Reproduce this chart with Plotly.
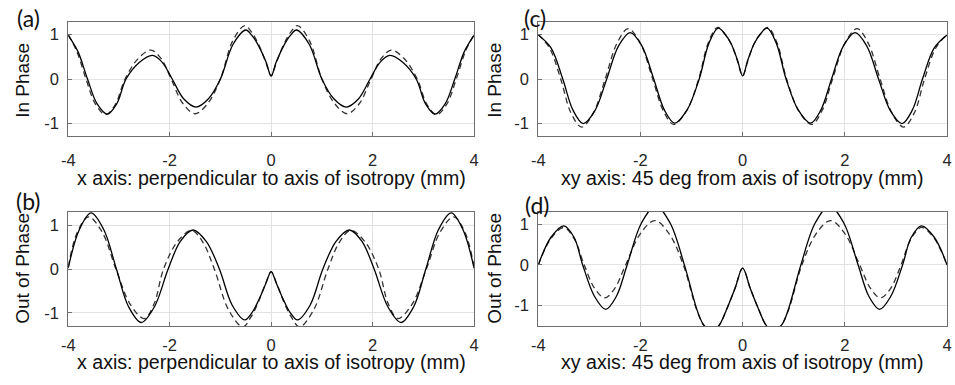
import plotly.graph_objects as go

# ---------------- data ----------------
# (a) In phase, x axis
a_solid_x = [-4.0, -3.81, -3.62, -3.43, -3.23, -3.04, -2.86, -2.6, -2.34, -2.15, -1.95, -1.72, -1.48, -1.24, -1.0, -0.75, -0.5, -0.38, -0.25, -0.1, 0.0,
             0.1, 0.25, 0.38, 0.5, 0.75, 1.0, 1.24, 1.48, 1.72, 1.95, 2.15, 2.34, 2.6, 2.86, 3.04, 3.23, 3.43, 3.62, 3.81, 4.0]
a_solid_y = [0.98, 0.62, 0.0, -0.56, -0.79, -0.55, 0.0, 0.37, 0.53, 0.38, 0.0, -0.45, -0.63, -0.45, 0.0, 0.78, 1.10, 0.98, 0.75, 0.38, 0.07,
             0.38, 0.75, 0.98, 1.10, 0.78, 0.0, -0.45, -0.63, -0.45, 0.0, 0.38, 0.53, 0.37, 0.0, -0.55, -0.79, -0.56, 0.0, 0.62, 0.98]
a_dash_x = [-4.0, -3.83, -3.65, -3.46, -3.26, -3.07, -2.88, -2.62, -2.37, -2.17, -1.97, -1.74, -1.5, -1.25, -1.0, -0.76, -0.52, -0.39, -0.25, -0.1, 0.0,
            0.1, 0.25, 0.39, 0.52, 0.76, 1.0, 1.25, 1.5, 1.74, 1.97, 2.17, 2.37, 2.62, 2.88, 3.07, 3.26, 3.46, 3.65, 3.83, 4.0]
a_dash_y = [1.0, 0.62, 0.0, -0.57, -0.80, -0.57, 0.0, 0.46, 0.65, 0.46, 0.0, -0.55, -0.78, -0.55, 0.0, 0.85, 1.20, 1.06, 0.78, 0.36, 0.07,
            0.36, 0.78, 1.06, 1.20, 0.85, 0.0, -0.55, -0.78, -0.55, 0.0, 0.46, 0.65, 0.46, 0.0, -0.57, -0.80, -0.57, 0.0, 0.62, 1.0]

# (c) In phase, xy axis
c_solid_x = [-4.0, -3.75, -3.52, -3.32, -3.12, -2.89, -2.66, -2.43, -2.2, -1.97, -1.74, -1.53, -1.33, -1.09, -0.85, -0.66, -0.48, -0.34, -0.22, -0.1, 0.0,
             0.1, 0.22, 0.34, 0.48, 0.66, 0.85, 1.09, 1.33, 1.53, 1.74, 1.97, 2.2, 2.43, 2.66, 2.89, 3.12, 3.32, 3.52, 3.75, 4.0]
c_solid_y = [0.99, 0.7, 0.0, -0.7, -1.0, -0.71, 0.0, 0.74, 1.04, 0.74, 0.0, -0.7, -0.99, -0.7, 0.0, 0.8, 1.14, 1.0, 0.78, 0.42, 0.07,
             0.42, 0.78, 1.0, 1.14, 0.8, 0.0, -0.7, -0.99, -0.7, 0.0, 0.74, 1.04, 0.74, 0.0, -0.71, -1.0, -0.7, 0.0, 0.7, 0.99]
c_dash_x = [-4.0, -3.78, -3.56, -3.36, -3.15, -2.92, -2.69, -2.46, -2.24, -2.0, -1.76, -1.55, -1.35, -1.1, -0.86, -0.67, -0.49, -0.34, -0.22, -0.1, 0.0,
            0.1, 0.22, 0.34, 0.49, 0.67, 0.86, 1.1, 1.35, 1.55, 1.76, 2.0, 2.24, 2.46, 2.69, 2.92, 3.15, 3.36, 3.56, 3.78, 4.0]
c_dash_y = [1.0, 0.7, 0.0, -0.76, -1.08, -0.76, 0.0, 0.8, 1.13, 0.8, 0.0, -0.72, -1.02, -0.72, 0.0, 0.82, 1.16, 1.0, 0.78, 0.40, 0.07,
            0.40, 0.78, 1.0, 1.16, 0.82, 0.0, -0.72, -1.02, -0.72, 0.0, 0.8, 1.13, 0.8, 0.0, -0.76, -1.08, -0.76, 0.0, 0.7, 1.0]

# (b) Out of phase, x axis
b_solid_x = [-4.0, -3.78, -3.55, -3.3, -3.05, -2.81, -2.56, -2.3, -2.03, -1.79, -1.54, -1.28, -1.02, -0.77, -0.52, -0.38, -0.25, -0.1, 0.0,
             0.1, 0.25, 0.38, 0.52, 0.77, 1.02, 1.28, 1.54, 1.79, 2.03, 2.3, 2.56, 2.81, 3.05, 3.3, 3.55, 3.78, 4.0]
b_solid_y = [0.02, 0.9, 1.28, 0.9, 0.0, -0.86, -1.22, -0.86, 0.0, 0.63, 0.89, 0.63, 0.0, -0.82, -1.16, -1.0, -0.72, -0.32, -0.06,
             -0.32, -0.72, -1.0, -1.16, -0.82, 0.0, 0.63, 0.89, 0.63, 0.0, -0.86, -1.22, -0.86, 0.0, 0.9, 1.28, 0.9, 0.02]
b_dash_x = [-4.0, -3.82, -3.6, -3.33, -3.06, -2.78, -2.5, -2.31, -2.12, -1.85, -1.57, -1.35, -1.12, -0.84, -0.56, -0.4, -0.25, -0.1, 0.0,
            0.1, 0.25, 0.4, 0.56, 0.84, 1.12, 1.35, 1.57, 1.85, 2.12, 2.31, 2.5, 2.78, 3.06, 3.33, 3.6, 3.82, 4.0]
b_dash_y = [0.05, 0.84, 1.19, 0.84, 0.0, -0.8, -1.13, -0.8, 0.0, 0.62, 0.88, 0.62, 0.0, -0.93, -1.32, -1.1, -0.75, -0.3, -0.06,
            -0.3, -0.75, -1.1, -1.32, -0.93, 0.0, 0.62, 0.88, 0.62, 0.0, -0.8, -1.13, -0.8, 0.0, 0.84, 1.19, 0.84, 0.05]

# (d) Out of phase, xy axis
d_solid_x = [-4.0, -3.75, -3.5, -3.3, -3.13, -2.9, -2.68, -2.47, -2.26, -1.98, -1.7, -1.42, -1.14, -0.88, -0.76, -0.62, -0.47, -0.3, -0.15, 0.0,
             0.15, 0.3, 0.47, 0.62, 0.76, 0.88, 1.14, 1.42, 1.7, 1.98, 2.26, 2.47, 2.68, 2.9, 3.13, 3.3, 3.5, 3.75, 4.0]
d_solid_y = [0.0, 0.68, 0.96, 0.68, 0.0, -0.77, -1.09, -0.77, 0.0, 1.03, 1.45, 1.03, 0.0, -1.15, -1.48, -1.62, -1.5, -1.05, -0.58, -0.08,
             -0.58, -1.05, -1.5, -1.62, -1.48, -1.15, 0.0, 1.03, 1.45, 1.03, 0.0, -0.77, -1.09, -0.77, 0.0, 0.68, 0.96, 0.68, 0.0]
d_dash_x = [-4.0, -3.75, -3.5, -3.3, -3.1, -2.9, -2.7, -2.5, -2.29, -2.0, -1.72, -1.44, -1.16, -0.9, -0.76, -0.62, -0.47, -0.3, -0.15, 0.0,
            0.15, 0.3, 0.47, 0.62, 0.76, 0.9, 1.16, 1.44, 1.72, 2.0, 2.29, 2.5, 2.7, 2.9, 3.1, 3.3, 3.5, 3.75, 4.0]
d_dash_y = [0.0, 0.65, 0.92, 0.65, 0.0, -0.57, -0.81, -0.57, 0.0, 0.77, 1.09, 0.77, 0.0, -1.1, -1.48, -1.62, -1.5, -1.05, -0.58, -0.08,
            -0.58, -1.05, -1.5, -1.62, -1.48, -1.1, 0.0, 0.77, 1.09, 0.77, 0.0, -0.57, -0.81, -0.57, 0.0, 0.65, 0.92, 0.65, 0.0]

x_ticks = [-4, -2, 0, 2, 4]
x_tick_text = ["-4", "-2", "0", "2", "4"]
y_ticks = [-1, 0, 1]
y_tick_text = ["-1", "0", "1"]
x_title_x = "x axis: perpendicular to axis of isotropy (mm)"
x_title_xy = "xy axis: 45 deg from axis of isotropy (mm)"
y_title_in = "In Phase"
y_title_out = "Out of Phase"
panel_labels = ["(a)", "(b)", "(c)", "(d)"]

# ---------------- figure ----------------
W, H = 955, 385
def px(v):
    return v / W
def py(v):
    return 1 - v / H

FONT = "Liberation Sans, Arial, sans-serif"
TXT = "#262626"

fig = go.Figure()

panels = [
    (a_solid_x, a_solid_y, a_dash_x, a_dash_y, "x", "y"),
    (c_solid_x, c_solid_y, c_dash_x, c_dash_y, "x2", "y2"),
    (b_solid_x, b_solid_y, b_dash_x, b_dash_y, "x3", "y3"),
    (d_solid_x, d_solid_y, d_dash_x, d_dash_y, "x4", "y4"),
]
for xs, ys, xd, yd, xa, ya in panels:
    fig.add_trace(go.Scatter(x=xd, y=yd, mode="lines", xaxis=xa, yaxis=ya,
                             line=dict(color="#333333", width=1.3, dash="6px,4px", shape="spline", smoothing=1.0),
                             showlegend=False, hoverinfo="skip"))
    fig.add_trace(go.Scatter(x=xs, y=ys, mode="lines", xaxis=xa, yaxis=ya,
                             line=dict(color="#000000", width=1.3, shape="spline", smoothing=1.0),
                             showlegend=False, hoverinfo="skip"))

left_dom = [px(62), px(473)]
right_dom = [px(538), px(952)]
top_dom = [py(136), py(22)]
bot_dom = [py(326), py(212)]

def xax(dom, anchor, standoff):
    return dict(domain=dom, anchor=anchor, range=[-4, 4], tickvals=x_ticks, ticktext=x_tick_text,
                showgrid=True, gridcolor="#e2e2e2", gridwidth=1, zeroline=False,
                showline=True, linecolor="#6e6e6e", linewidth=1, mirror=True,
                ticks="inside", ticklen=4, tickcolor="#6e6e6e",
                tickfont=dict(family=FONT, size=16.5, color=TXT), ticklabelstandoff=standoff)

def yax(dom, anchor, rng):
    return dict(domain=dom, anchor=anchor, range=rng, tickvals=y_ticks, ticktext=y_tick_text,
                showgrid=True, gridcolor="#e2e2e2", gridwidth=1, zeroline=False,
                showline=True, linecolor="#6e6e6e", linewidth=1, mirror=True,
                ticks="inside", ticklen=4, tickcolor="#6e6e6e",
                tickfont=dict(family=FONT, size=16.5, color=TXT), ticklabelstandoff=5)

fig.update_layout(
    width=W, height=H, margin=dict(l=0, r=0, t=0, b=0),
    paper_bgcolor="white", plot_bgcolor="white",
    xaxis=xax(left_dom, "y", 9), yaxis=yax(top_dom, "x", [-1.28, 1.28]),
    xaxis2=xax(right_dom, "y2", 9), yaxis2=yax(top_dom, "x2", [-1.28, 1.28]),
    xaxis3=xax(left_dom, "y3", 4), yaxis3=yax(bot_dom, "x3", [-1.3, 1.3]),
    xaxis4=xax(right_dom, "y4", 4), yaxis4=yax(bot_dom, "x4", [-1.5, 1.3]),
)

ann = []
for text, cx, cy in [(x_title_x, 267.5, 178), (x_title_xy, 745, 178),
                     (x_title_x, 267.5, 362), (x_title_xy, 745, 362)]:
    ann.append(dict(text=text, x=px(cx), y=py(cy), xref="paper", yref="paper",
                    xanchor="center", yanchor="middle", showarrow=False,
                    font=dict(family=FONT, size=19.6, color="#111111")))
for text, cx, cy in [(y_title_in, 15, 80), (y_title_in, 493, 80),
                     (y_title_out, 15, 268), (y_title_out, 493, 268)]:
    ann.append(dict(text=text, x=px(cx), y=py(cy), xref="paper", yref="paper",
                    xanchor="center", yanchor="middle", showarrow=False, textangle=-90,
                    font=dict(family=FONT, size=19, color="#111111")))
for text, cx, cy in [(panel_labels[0], 22, 18), (panel_labels[1], 22, 201),
                     (panel_labels[2], 535, 18), (panel_labels[3], 537, 205)]:
    ann.append(dict(text=text, x=px(cx), y=py(cy), xref="paper", yref="paper",
                    xanchor="center", yanchor="middle", showarrow=False,
                    font=dict(family="Lato, Open Sans, sans-serif", size=23, color="#111111")))
fig.update_layout(annotations=ann)

fig.write_html("out.html")
